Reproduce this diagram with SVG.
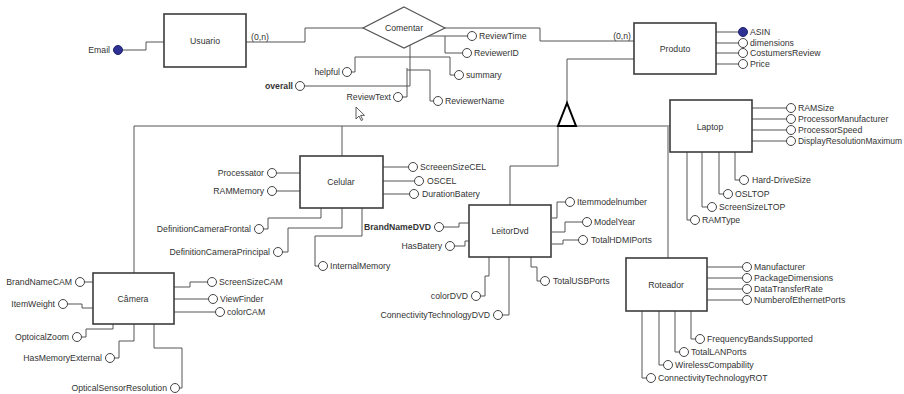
<svg xmlns="http://www.w3.org/2000/svg" width="904" height="394" viewBox="0 0 904 394">
<style>
text{font-family:"Liberation Sans",Arial,sans-serif;font-size:8.7px;fill:#333}
.e{text-anchor:end}
.m{text-anchor:middle}
.b{font-weight:bold}
.box{fill:#fff;stroke:#3c3c3c;stroke-width:1.6}
.rel{fill:#fff;stroke:#555;stroke-width:1.2}
.c{fill:#fff;stroke:#444;stroke-width:1}
.k{fill:#2e3192;stroke:#22246e;stroke-width:1}
#connectors path{fill:none;stroke:#555;stroke-width:1}
</style>
<rect width="904" height="394" fill="#fff"/>
<g id="connectors">
<path d="M122.5,50 H146 V42 H164"/>
<path d="M246,42 H305 V28 H363"/>
<path d="M445,28 H540 V41 H634"/>
<path d="M428,36 H467.5"/>
<path d="M445,36 V53 H462.5"/>
<path d="M410,57 H450 V75 H454.5"/>
<path d="M351.5,72 H355 V57 H410"/>
<path d="M304.5,86 H410 V45"/>
<path d="M402.5,97 H407 V68"/>
<path d="M407,70 H430 V101 H433.5"/>
<path d="M716,32 H738.5 M716,43 H738.5 M716,53 H738.5 M716,64 H738.5"/>
<path d="M134,273 V126 H670"/>
<path d="M342,126 V156"/>
<path d="M558,126 V166 H510 V205"/>
<path d="M668,127 V258"/>
<path d="M567,103 V59 H634"/>
<path d="M277,173 H300 M277,191 H300"/>
<path d="M263.5,229 H268 V218 H321 V208"/>
<path d="M282.5,252 H288 V228 H342 V208"/>
<path d="M318.5,266 H315 V236 H362 V208"/>
<path d="M383,167 H408.5 M383,181 H414.5 M383,194 H409.5"/>
<path d="M443.5,227 H459 V223 H469"/>
<path d="M454.5,246 H465 V241 H469"/>
<path d="M552,218 H557 V202 H565.5"/>
<path d="M552,232 H565 V222 H582.5"/>
<path d="M552,244 H563 V240 H578.5"/>
<path d="M531,257 V267 H537 V281 H540.5"/>
<path d="M480.5,296 H485 V276 H489 V257"/>
<path d="M502.5,315 H509 V257"/>
<path d="M84.5,282 H93"/>
<path d="M67.5,304 H82 V308 H93"/>
<path d="M81.5,337 H86 V329 H113 V324"/>
<path d="M114.5,358 H119 V341 H134 V324"/>
<path d="M179.5,388 H182 V348 H154 V324"/>
<path d="M174,287 H190 V282 H207.5"/>
<path d="M174,299 H208.5"/>
<path d="M174,312 H215.5"/>
<path d="M752,108 H786.5 M752,119 H786.5 M752,130 H786.5 M752,141 H786.5"/>
<path d="M735,152 V180 H739.5"/>
<path d="M719,152 V194 H723.5"/>
<path d="M702,152 V207 H707.5"/>
<path d="M687,152 V220 H690.5"/>
<path d="M707,267 H742.5 M707,278 H742.5 M707,289 H742.5 M707,300 H742.5"/>
<path d="M691,311 V339 H695.5"/>
<path d="M675,311 V352 H679.5"/>
<path d="M659,311 V365 H663.5"/>
<path d="M642,311 V378 H646.5"/>
<polygon points="567,103 558,126 576,126" fill="#fff" stroke="#000" stroke-width="2"/>
</g>
<text x="251" y="40">(0,n)</text>
<text x="631" y="39" class="e">(0,n)</text>
<g id="Usuario"><rect class="box" x="164" y="14" width="82" height="53"/><text x="205" y="44" class="m">Usuario</text></g>
<g id="Email"><circle class="k" cx="118" cy="50" r="4.5"/><text x="110" y="53" class="e">Email</text></g>
<g id="Comentar"><polygon class="rel" points="404,7 445,28 404,48 363,28"/><text x="404" y="31" class="m">Comentar</text></g>
<g id="ReviewTime"><circle class="c" cx="472" cy="36" r="4.5"/><text x="479" y="39">ReviewTime</text></g>
<g id="ReviewerID"><circle class="c" cx="467" cy="53" r="4.5"/><text x="474" y="56">ReviewerID</text></g>
<g id="summary"><circle class="c" cx="459" cy="75" r="4.5"/><text x="466" y="78">summary</text></g>
<g id="helpful"><circle class="c" cx="347" cy="72" r="4.5"/><text x="340" y="75" class="e">helpful</text></g>
<g id="overall"><circle class="c" cx="300" cy="86" r="4.5"/><text x="293" y="89" class="e b">overall</text></g>
<g id="ReviewText"><circle class="c" cx="398" cy="97" r="4.5"/><text x="391" y="100" class="e">ReviewText</text></g>
<g id="ReviewerName"><circle class="c" cx="438" cy="101" r="4.5"/><text x="445" y="104">ReviewerName</text></g>
<g id="Produto"><rect class="box" x="634" y="23" width="82" height="51"/><text x="675" y="52" class="m">Produto</text></g>
<g id="ASIN"><circle class="k" cx="743" cy="32" r="4.5"/><text x="750" y="35">ASIN</text></g>
<g id="dimensions"><circle class="c" cx="743" cy="43" r="4.5"/><text x="750" y="46">dimensions</text></g>
<g id="CostumersReview"><circle class="c" cx="743" cy="53" r="4.5"/><text x="750" y="56">CostumersReview</text></g>
<g id="Price"><circle class="c" cx="743" cy="64" r="4.5"/><text x="750" y="67">Price</text></g>
<g id="Celular"><rect class="box" x="300" y="156" width="83" height="52"/><text x="341" y="185" class="m">Celular</text></g>
<g id="Processator"><circle class="c" cx="272" cy="173" r="4.5"/><text x="264" y="176" class="e">Processator</text></g>
<g id="RAMMemory"><circle class="c" cx="272" cy="191" r="4.5"/><text x="264" y="194" class="e">RAMMemory</text></g>
<g id="DefinitionCameraFrontal"><circle class="c" cx="259" cy="229" r="4.5"/><text x="251" y="232" class="e">DefinitionCameraFrontal</text></g>
<g id="DefinitionCameraPrincipal"><circle class="c" cx="278" cy="252" r="4.5"/><text x="270" y="255" class="e">DefinitionCameraPrincipal</text></g>
<g id="InternalMemory"><circle class="c" cx="323" cy="266" r="4.5"/><text x="330" y="269">InternalMemory</text></g>
<g id="ScreeenSizeCEL"><circle class="c" cx="413" cy="167" r="4.5"/><text x="420" y="170">ScreeenSizeCEL</text></g>
<g id="OSCEL"><circle class="c" cx="419" cy="181" r="4.5"/><text x="427" y="184">OSCEL</text></g>
<g id="DurationBatery"><circle class="c" cx="414" cy="194" r="4.5"/><text x="422" y="197">DurationBatery</text></g>
<g id="LeitorDvd"><rect class="box" x="469" y="205" width="82" height="52"/><text x="510" y="234" class="m">LeitorDvd</text></g>
<g id="BrandNameDVD"><circle class="c" cx="439" cy="227" r="4.5"/><text x="431" y="230" class="e b">BrandNameDVD</text></g>
<g id="HasBatery"><circle class="c" cx="450" cy="246" r="4.5"/><text x="442" y="249" class="e">HasBatery</text></g>
<g id="Itemmodelnumber"><circle class="c" cx="570" cy="202" r="4.5"/><text x="577" y="205">Itemmodelnumber</text></g>
<g id="ModelYear"><circle class="c" cx="587" cy="222" r="4.5"/><text x="594" y="225">ModelYear</text></g>
<g id="TotalHDMIPorts"><circle class="c" cx="583" cy="240" r="4.5"/><text x="591" y="243">TotalHDMIPorts</text></g>
<g id="TotalUSBPorts"><circle class="c" cx="545" cy="281" r="4.5"/><text x="553" y="284">TotalUSBPorts</text></g>
<g id="colorDVD"><circle class="c" cx="476" cy="296" r="4.5"/><text x="468" y="299" class="e">colorDVD</text></g>
<g id="ConnectivityTechnologyDVD"><circle class="c" cx="498" cy="315" r="4.5"/><text x="490" y="318" class="e">ConnectivityTechnologyDVD</text></g>
<g id="Camera"><rect class="box" x="93" y="273" width="81" height="51"/><text x="133" y="302" class="m">Câmera</text></g>
<g id="BrandNameCAM"><circle class="c" cx="80" cy="282" r="4.5"/><text x="72" y="285" class="e">BrandNameCAM</text></g>
<g id="ItemWeight"><circle class="c" cx="63" cy="304" r="4.5"/><text x="55" y="307" class="e">ItemWeight</text></g>
<g id="OptoicalZoom"><circle class="c" cx="77" cy="337" r="4.5"/><text x="69" y="340" class="e">OptoicalZoom</text></g>
<g id="HasMemoryExternal"><circle class="c" cx="110" cy="358" r="4.5"/><text x="102" y="361" class="e">HasMemoryExternal</text></g>
<g id="OpticalSensorResolution"><circle class="c" cx="175" cy="388" r="4.5"/><text x="167" y="391" class="e">OpticalSensorResolution</text></g>
<g id="ScreenSizeCAM"><circle class="c" cx="212" cy="282" r="4.5"/><text x="219" y="285">ScreenSizeCAM</text></g>
<g id="ViewFinder"><circle class="c" cx="213" cy="299" r="4.5"/><text x="220" y="302">ViewFinder</text></g>
<g id="colorCAM"><circle class="c" cx="220" cy="312" r="4.5"/><text x="227" y="315">colorCAM</text></g>
<g id="Laptop"><rect class="box" x="670" y="100" width="82" height="52"/><text x="710" y="130" class="m">Laptop</text></g>
<g id="RAMSize"><circle class="c" cx="791" cy="108" r="4.5"/><text x="798" y="111">RAMSize</text></g>
<g id="ProcessorManufacturer"><circle class="c" cx="791" cy="119" r="4.5"/><text x="798" y="122">ProcessorManufacturer</text></g>
<g id="ProcessorSpeed"><circle class="c" cx="791" cy="130" r="4.5"/><text x="798" y="133">ProcessorSpeed</text></g>
<g id="DisplayResolutionMaximum"><circle class="c" cx="791" cy="141" r="4.5"/><text x="798" y="144" textLength="104" lengthAdjust="spacingAndGlyphs">DisplayResolutionMaximum</text></g>
<g id="Hard-DriveSize"><circle class="c" cx="744" cy="180" r="4.5"/><text x="752" y="183">Hard-DriveSize</text></g>
<g id="OSLTOP"><circle class="c" cx="728" cy="194" r="4.5"/><text x="735" y="197">OSLTOP</text></g>
<g id="ScreenSizeLTOP"><circle class="c" cx="712" cy="207" r="4.5"/><text x="719" y="210">ScreenSizeLTOP</text></g>
<g id="RAMType"><circle class="c" cx="695" cy="220" r="4.5"/><text x="702" y="223">RAMType</text></g>
<g id="Roteador"><rect class="box" x="626" y="258" width="81" height="53"/><text x="666" y="288" class="m">Roteador</text></g>
<g id="Manufacturer"><circle class="c" cx="747" cy="267" r="4.5"/><text x="754" y="270">Manufacturer</text></g>
<g id="PackageDimensions"><circle class="c" cx="747" cy="278" r="4.5"/><text x="754" y="281">PackageDimensions</text></g>
<g id="DataTransferRate"><circle class="c" cx="747" cy="289" r="4.5"/><text x="754" y="292">DataTransferRate</text></g>
<g id="NumberofEthernetPorts"><circle class="c" cx="747" cy="300" r="4.5"/><text x="754" y="303">NumberofEthernetPorts</text></g>
<g id="FrequencyBandsSupported"><circle class="c" cx="700" cy="339" r="4.5"/><text x="707" y="342">FrequencyBandsSupported</text></g>
<g id="TotalLANPorts"><circle class="c" cx="684" cy="352" r="4.5"/><text x="691" y="355">TotalLANPorts</text></g>
<g id="WirelessCompability"><circle class="c" cx="668" cy="365" r="4.5"/><text x="675" y="368">WirelessCompability</text></g>
<g id="ConnectivityTechnologyROT"><circle class="c" cx="651" cy="378" r="4.5"/><text x="658" y="381">ConnectivityTechnologyROT</text></g>
<path d="M356,107 V119 L359,116 L361.2,120.5 L362.8,119.8 L360.6,115.4 H364.5 Z" fill="#fff" stroke="#333" stroke-width="0.8"/>
</svg>
